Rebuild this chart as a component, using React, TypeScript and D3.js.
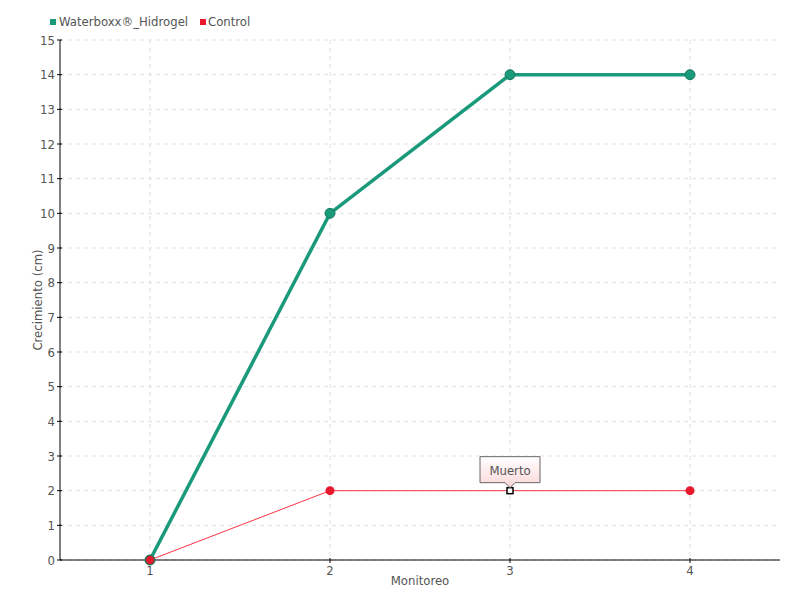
import React from "react";
import * as d3 from "d3";

const categories = ["1", "2", "3", "4"];
const waterboxx = [0, 10, 14, 14];
const control = [0, 2, 2, 2];
const yTicks = d3.range(0, 16);
const seriesNames = ["Waterboxx®_Hidrogel", "Control"];
const tooltipText = "Muerto";

export default function App() {
  const W = 800, H = 600;
  const left = 60, right = 780, top = 40, bottom = 560;
  const x = d3.scaleBand<string>().domain(categories).range([left, right]);
  const cx = (c: string) => (x(c) as number) + x.bandwidth() / 2;
  const y = d3.scaleLinear().domain([0, 15]).range([bottom, top]);
  const line = d3.line<number>().x((_, i) => cx(categories[i])).y((d) => y(d));
  const font = "'DejaVu Sans Condensed', 'DejaVu Sans', sans-serif";
  const green = "#1a9a7b";
  const red = "#ff3344";
  const tipX = cx(categories[2]);
  const tipY = y(control[2]);
  return (
    <svg width={W} height={H} style={{ position: "absolute", left: 0, top: 0 }} fontFamily={font}>
      <defs>
        <linearGradient id="tipg" x1="0" y1="0" x2="0" y2="1">
          <stop offset="0" stopColor="#ffffff" />
          <stop offset="1" stopColor="#fbd6d6" />
        </linearGradient>
      </defs>
      <rect width={W} height={H} fill="#fff" />
      {yTicks.map((t) => (
        <line key={"gy" + t} x1={left} x2={right} y1={y(t)} y2={y(t)} stroke="#e0e0e0" strokeDasharray="4,4" />
      ))}
      {categories.map((c) => (
        <line key={"gx" + c} x1={cx(c)} x2={cx(c)} y1={top} y2={bottom} stroke="#e0e0e0" strokeDasharray="4,4" />
      ))}
      <line x1={left} x2={left} y1={top} y2={bottom} stroke="#000" />
      <line x1={left} x2={right} y1={bottom} y2={bottom} stroke="#000" />
      {yTicks.map((t) => (
        <g key={"ty" + t}>
          <line x1={left - 3} x2={left + 2} y1={y(t)} y2={y(t)} stroke="#000" />
          <text x={left - 5} y={y(t)} dy="0.35em" textAnchor="end" fontSize={13} fill="#555">{t}</text>
        </g>
      ))}
      {categories.map((c) => (
        <g key={"tx" + c}>
          <line x1={cx(c)} x2={cx(c)} y1={bottom - 2} y2={bottom + 3} stroke="#000" />
          <text x={cx(c)} y={bottom + 15} textAnchor="middle" fontSize={13} fill="#555">{c}</text>
        </g>
      ))}
      <text x={(left + right) / 2} y={585} textAnchor="middle" fontSize={13} fill="#555">Monitoreo</text>
      <text transform={`translate(42,${(top + bottom) / 2}) rotate(-90)`} textAnchor="middle" fontSize={13} fill="#555">Crecimiento (cm)</text>

      <path d={line(waterboxx) || ""} fill="none" stroke={green} strokeWidth={3.5} />
      {waterboxx.map((v, i) => (
        <circle key={"gw" + i} cx={cx(categories[i])} cy={y(v)} r={5} fill={green} stroke="#167a5f" strokeWidth={1} />
      ))}
      <path d={line(control) || ""} fill="none" stroke={red} strokeWidth={1} />
      {control.map((v, i) =>
        i === 2 ? (
          <rect key={"rc" + i} x={cx(categories[i]) - 3} y={y(v) - 3} width={6} height={6} fill="#fff" stroke="#000" strokeWidth={1.5} />
        ) : (
          <circle key={"rc" + i} cx={cx(categories[i])} cy={y(v)} r={4.5} fill="#e8192c" stroke={i === 0 ? "#2e6b4f" : "none"} strokeWidth={1.2} />
        )
      )}
      <g>
        <path
          d={`M${tipX - 30},${tipY - 34} H${tipX + 30} V${tipY - 8} H${tipX + 5} L${tipX},${tipY - 3} L${tipX - 5},${tipY - 8} H${tipX - 30} Z`}
          fill="url(#tipg)"
          stroke="#666"
          strokeWidth={1}
        />
        <text x={tipX} y={tipY - 16} textAnchor="middle" fontSize={13} fill="#555">{tooltipText}</text>
      </g>

      <rect x={50} y={19} width={6} height={6} fill={green} />
      <text x={59} y={26} fontSize={13} fill="#555">{seriesNames[0]}</text>
      <rect x={200} y={19} width={6} height={6} fill="#e8192c" />
      <text x={208} y={26} fontSize={13} fill="#555">{seriesNames[1]}</text>
    </svg>
  );
}
